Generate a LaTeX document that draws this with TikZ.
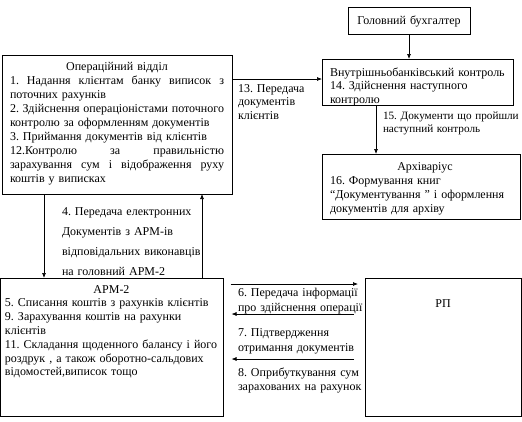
\documentclass[tikz,border=0pt]{standalone}
\usepackage{fontspec}
\setmainfont{Liberation Serif}
\usetikzlibrary{arrows.meta}
\frenchspacing
\newcommand\jline[2]{{\spaceskip=0pt\relax\xspaceskip=0pt\relax\makebox[#1][s]{#2}}}
\begin{document}
\begin{tikzpicture}[x=1pt,y=-1pt,
  box/.style={draw, line width=0.9pt, inner sep=0pt, outer sep=0pt, anchor=north west},
  txt/.style={inner sep=0pt, outer sep=0pt, anchor=base west, align=left, font=\fontsize{12}{14}\selectfont},
  arr/.style={line width=0.7pt, -{Latex[length=5pt,width=4pt]}},
]
\useasboundingbox (0,0) rectangle (522,421);
\fill[white] (0,0) rectangle (522,421);

% boxes
\node[box, minimum width=230pt, minimum height=139pt] (op) at (2,55) {};
\node[box, minimum width=122pt, minimum height=27pt] (gb) at (348,7) {};
\node[box, minimum width=191pt, minimum height=46pt] (vk) at (322,59) {};
\node[box, minimum width=198pt, minimum height=65pt] (ar) at (322,154) {};
\node[box, minimum width=223pt, minimum height=138pt] (arm) at (0.5,278) {};
\node[box, minimum width=156pt, minimum height=138pt] (rp) at (365,278) {};

% box texts
\node[txt, text width=214pt] (opt) at (10,70) {%
\makebox[214pt]{Операційний відділ}\\
\jline{214pt}{1. Надання клієнтам банку виписок з}\\
поточних рахунків\\
\jline{214pt}{2. Здійснення операціоністами поточного}\\
контролю за оформленням документів\\
3. Приймання документів від клієнтів\\
\jline{214pt}{12.Контролю за правильністю}\\
\jline{214pt}{зарахування сум і відображення руху}\\
коштів у виписках};

\node[txt, anchor=base, text width=120pt, align=center] (gbt) at (409,24) {Головний бухгалтер};

\node[txt, text width=185pt, font=\fontsize{12}{13.5}\selectfont] (vkt) at (330,76) {%
Внутрішньобанківський контроль\\
14. Здійснення наступного\\
контролю};

\node[txt, text width=190pt, font=\fontsize{12}{14.3}\selectfont] (art) at (330,170) {%
\makebox[190pt]{Архіваріус}\\
16. Формування книг\\
“Документування ” і оформлення\\
документів для архіву};

\node[txt, text width=218pt, font=\fontsize{12}{13.8}\selectfont] (armt) at (5,293) {%
\makebox[213pt]{АРМ-2}\\
5. Списання коштів з рахунків клієнтів\\
9. Зарахування коштів на рахунки\\
клієнтів\\
11. Складання щоденного балансу і його\\
роздрук , а також оборотно-сальдових\\
відомостей,виписок тощо};

\node[txt, anchor=base, text width=40pt, align=center] (rpt) at (443,307) {РП};

% connector labels
\node[txt, text width=80pt, font=\fontsize{12}{13.5}\selectfont] (l13) at (238,92) {13. Передача\\документів\\клієнтів};
\node[txt, text width=138pt, font=\fontsize{11.2}{13}\selectfont] (l15) at (383,119) {15. Документи що пройшли\\наступний контроль};
\node[txt, text width=150pt, font=\fontsize{12}{20.3}\selectfont] (l4) at (62,215) {4. Передача електронних\\Документів з АРМ-ів\\відповідальних виконавців\\на головний АРМ-2};
\node[txt, text width=125pt, font=\fontsize{12}{15}\selectfont] (l6) at (238,296) {6. Передача інформації\\про здійснення операції};
\node[txt, text width=125pt, font=\fontsize{12}{15}\selectfont] (l7) at (238,336) {7. Підтвердження\\отримання документів};
\node[txt, text width=125pt, font=\fontsize{12}{14.5}\selectfont] (l8) at (238,376) {8. Оприбуткування сум\\зарахованих на рахунок};

% connector positions
\coordinate (c13) at (0,79);
\coordinate (c15) at (376,0);
\coordinate (c4a) at (44,0);
\coordinate (c4b) at (202,0);
\coordinate (c6) at (0,284);
\coordinate (c7) at (0,314);
\coordinate (c8) at (0,359);

% connectors
\draw[arr] (gb.south) -- (gb.south |- vk.north);
\draw[arr] (op.east |- c13) -- (vk.west |- c13);
\draw[arr] (vk.south -| c15) -- (ar.north -| c15);
\draw[arr] (op.south -| c4a) -- (arm.north -| c4a);
\draw[arr] (arm.north -| c4b) -- (op.south -| c4b);
\draw[arr, shorten <=7pt, shorten >=7pt] (arm.east |- c6) -- (rp.west |- c6);
\draw[arr, shorten <=11pt, shorten >=8pt] (rp.west |- c7) -- (arm.east |- c7);
\draw[arr, shorten <=11pt, shorten >=8pt] (rp.west |- c8) -- (arm.east |- c8);
\end{tikzpicture}
\end{document}
